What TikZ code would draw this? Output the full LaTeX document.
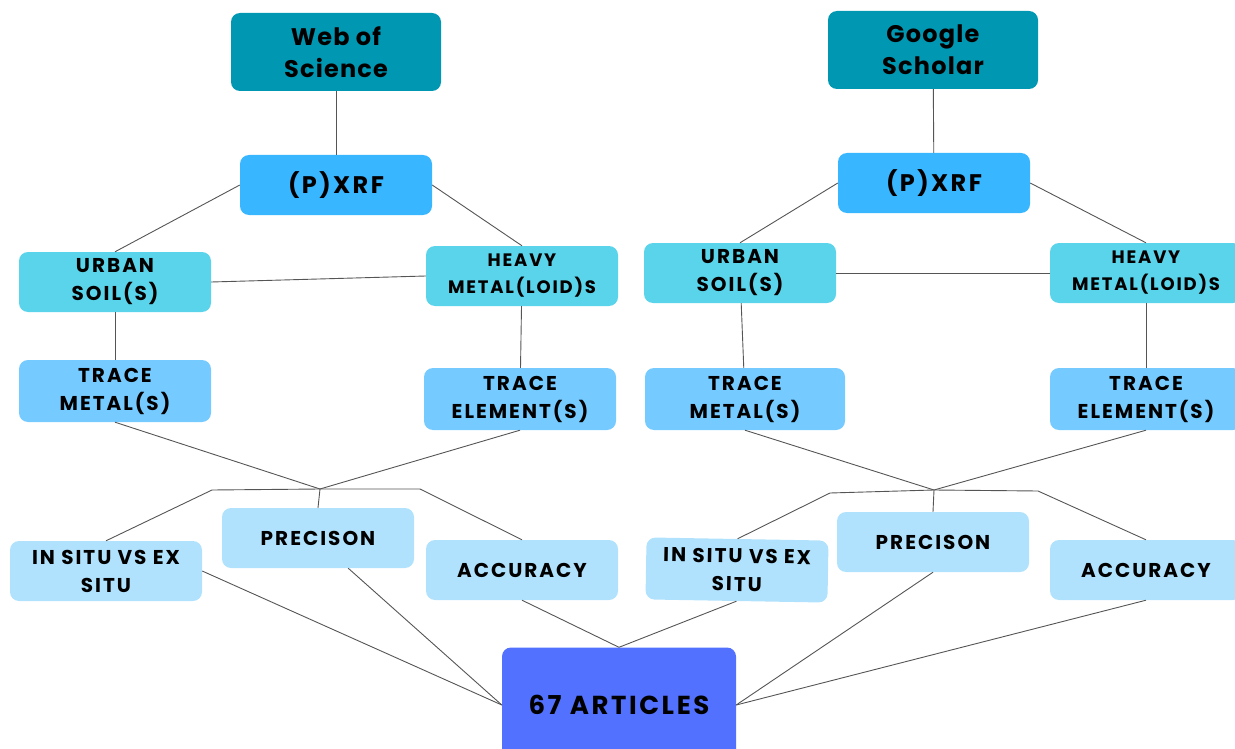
\documentclass[tikz,border=0pt]{standalone}
\usepackage{fontspec}
\setmainfont{Poppins}
\newfontfamily\labelfont{Poppins}[LetterSpace=10]
\newfontfamily\dbfont{Poppins}[LetterSpace=5]
\usetikzlibrary{positioning}
\definecolor{dbteal}{HTML}{0097B2}
\definecolor{xrfblue}{HTML}{38B6FF}
\definecolor{topiccyan}{HTML}{5AD4EA}
\definecolor{termblue}{HTML}{75CBFF}
\definecolor{critblue}{HTML}{B1E2FD}
\definecolor{resblue}{HTML}{5271FF}
\definecolor{linkgray}{HTML}{555555}
\tikzset{
	% boxes
	box/.style={rounded corners=9pt, align=center, inner sep=0pt,
		minimum width=192pt, minimum height=60pt,
		font=\labelfont\bfseries\fontsize{20}{28}\selectfont},
	dbbox/.style={box, fill=dbteal, minimum width=210pt, minimum height=78pt,
		font=\dbfont\bfseries\fontsize{24}{32}\selectfont},
	xrfbox/.style={box, fill=xrfblue, font=\labelfont\bfseries\fontsize{24}{28}\selectfont},
	topicbox/.style={box, fill=topiccyan},
	termbox/.style={box, fill=termblue, minimum height=62pt},
	critbox/.style={box, fill=critblue},
	resbox/.style={box, fill=resblue, minimum width=234pt, minimum height=115pt,
		font=\labelfont\bfseries\fontsize{26}{30}\selectfont},
	% connectors
	link/.style={draw=linkgray, line width=0.9pt},
}
\begin{document}
\begin{tikzpicture}[x=1pt,y=-1pt]
	\useasboundingbox (0,0) rectangle (1235,749);
	
	% left branch: Web of Science
	\node[dbbox] (wos) at (336,52) {Web of\\Science};
	\node[xrfbox] (xrfl) at (336,185) {(P)XRF};
	\node[topicbox] (soill) at (115,282) {URBAN\\SOIL(S)};
	\node[topicbox, font=\labelfont\bfseries\fontsize{18}{27}\selectfont] (heavyl) at (522,276) {HEAVY\\METAL(LOID)S};
	\node[termbox] (tmetl) at (115,391) {TRACE\\METAL(S)};
	\node[termbox] (telel) at (520,399) {TRACE\\ELEMENT(S)};
	\node[critbox] (insitul) at (106,571) {IN SITU VS EX\\SITU};
	\node[critbox] (precl) at (318,538) {PRECISON};
	\node[critbox] (accl) at (522,570) {ACCURACY};
	\coordinate (jl) at (320,489);
	\coordinate (jla) at (212,490);
	\coordinate (jlb) at (420,489);
	
	% right branch: Google Scholar
	\node[dbbox] (gs) at (933,50) {Google\\Scholar};
	\node[xrfbox] (xrfr) at (934,183) {(P)XRF};
	\node[topicbox] (soilr) at (740,273) {URBAN\\SOIL(S)};
	\node[topicbox, font=\labelfont\bfseries\fontsize{18}{27}\selectfont] (heavyr) at (1146,273) {HEAVY\\METAL(LOID)S};
	\node[termbox, minimum width=200pt] (tmetr) at (745,399) {TRACE\\METAL(S)};
	\node[termbox] (teler) at (1146,399) {TRACE\\ELEMENT(S)};
	\node[critbox, minimum width=182pt, minimum height=62pt, rotate=-1] (insitur) at (737,570) {IN SITU VS EX\\SITU};
	\node[critbox] (precr) at (933,542) {PRECISON};
	\node[critbox] (accr) at (1146,570) {ACCURACY};
	\coordinate (jr) at (934,490);
	\coordinate (jra) at (830,493);
	\coordinate (jrb) at (1038,491);
	
	% result
	\node[resbox] (art) at (619,705) {67 ARTICLES};
	
	% left links
	\draw[link] (wos) -- (xrfl);
	\draw[link] (xrfl.west) -- (soill.north);
	\draw[link] (xrfl.east) -- (heavyl.north);
	\draw[link] (soill.east) -- (heavyl.west);
	\draw[link] (soill) -- (tmetl);
	\draw[link] (heavyl) -- (telel);
	\draw[link] (tmetl.south) -- (jl) -- (telel.south);
	\draw[link] (insitul.north) -- (jla) -- (jl) -- (jlb) -- (accl.north);
	\draw[link] (jl) -- (precl.north);
	\draw[link] (insitul.east) -- (art.west);
	\draw[link] (precl.-45) -- (art.west);
	\draw[link] (accl.south) -- (art.north);
	
	% right links
	\draw[link] (gs) -- (xrfr);
	\draw[link] (xrfr.west) -- (soilr.north);
	\draw[link] (xrfr.east) -- (heavyr.north);
	\draw[link] (soilr.east) -- (heavyr.west);
	\draw[link] (soilr) -- (tmetr);
	\draw[link] (heavyr) -- (teler);
	\draw[link] (tmetr.south) -- (jr) -- (teler.south);
	\draw[link] (insitur.north) -- (jra) -- (jr) -- (jrb) -- (accr.north);
	\draw[link] (jr) -- (precr.north);
	\draw[link] (insitur.south) -- (art.north);
	\draw[link] (precr.south) -- (art.east);
	\draw[link] (accr.south) -- (art.east);
\end{tikzpicture}
\end{document}
